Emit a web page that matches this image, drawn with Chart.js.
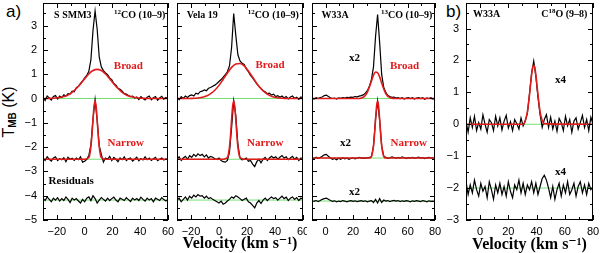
<!DOCTYPE html>
<html>
<head>
<meta charset="utf-8">
<script src="https://cdn.jsdelivr.net/npm/chart.js@4.4.1/dist/chart.umd.min.js"></script>
<style>
  body { margin: 0; background: #fff; width: 600px; height: 253px; overflow: hidden; position: relative; }
  canvas { position: absolute; top: 0; }
  .tag { position: absolute; font: 17px "Liberation Sans", Arial, sans-serif; color: #000; }
  #ylab { position: absolute; left: -30px; top: 102px; width: 80px; height: 20px; line-height: 20px; text-align: center;
          transform: rotate(-90deg); font: 16px "Liberation Sans", Arial, sans-serif; }
  #ylab sub { font-size: 10px; vertical-align: -2px; font-weight: bold; }
</style>
</head>
<body>
<div class="tag" style="left:6px;top:2px">a)</div>
<div class="tag" style="left:446px;top:2px">b)</div>
<div id="ylab">T<sub>MB</sub> (K)</div>
<canvas id="p1" width="175" height="253" style="left:0"></canvas>
<canvas id="p2" width="135" height="253" style="left:172px"></canvas>
<canvas id="p3" width="140" height="253" style="left:307px"></canvas>
<canvas id="p4" width="160" height="253" style="left:440px"></canvas>
<script>
// velocity grids (km/s)
const velA = [-30,-28.5,-27,-25.5,-24,-22.5,-21,-19.5,-18,-16.5,
  -15,-13.5,-12,-10.5,-9,-7.5,-6,-4.5,-3,-1.5,
  0,1.5,3,4.5,6,7.5,9,10.5,12,13.5,
  15,16.5,18,19.5,21,22.5,24,25.5,27,28.5,
  30,31.5,33,34.5,36,37.5,39,40.5,42,43.5,
  45,46.5,48,49.5,51,52.5,54,55.5,57,58.5,60];
const velB = [-10,-8.5,-7,-5.5,-4,-2.5,-1,0.5,2,3.5,
  5,6.5,8,9.5,11,12.5,14,15.5,17,18.5,
  20,21.5,23,24.5,26,27.5,29,30.5,32,33.5,
  35,36.5,38,39.5,41,42.5,44,45.5,47,48.5,
  50,51.5,53,54.5,56,57.5,59,60.5,62,63.5,
  65,66.5,68,69.5,71,72.5,74,75.5,77,78.5,80];

// S SMM3 12CO (10-9)
const smm3Obs = [0.05,-0.08,0.1,0.02,-0.06,0.08,0.12,-0.02,0.1,0.04,
  0.15,0.1,0.2,0.18,0.3,0.28,0.45,0.5,0.62,0.72,
  0.85,0.95,1.12,1.6,2.8,3.6,2.85,1.7,1.3,1.15,
  1.05,0.98,0.85,0.78,0.62,0.55,0.42,0.38,0.3,0.2,
  0.18,0.12,0.08,0.1,0.02,0.06,-0.04,0.08,0.0,-0.06,
  0.05,0.1,-0.05,0.03,0.08,-0.07,0.02,0.09,-0.03,0.04,0.0];
const smm3Nar = [-2.45,-2.55,-2.4,-2.5,-2.58,-2.45,-2.4,-2.55,-2.48,-2.52,
  -2.44,-2.6,-2.42,-2.5,-2.46,-2.55,-2.45,-2.52,-2.4,-2.62,
  -2.58,-2.5,-2.35,-1.9,-0.85,-0.05,-0.9,-1.95,-2.3,-2.62,
  -2.45,-2.5,-2.38,-2.55,-2.42,-2.5,-2.6,-2.45,-2.52,-2.4,
  -2.55,-2.48,-2.45,-2.58,-2.5,-2.42,-2.56,-2.47,-2.53,-2.4,
  -2.52,-2.45,-2.55,-2.48,-2.42,-2.56,-2.5,-2.45,-2.53,-2.48,-2.5];
const smm3Res = [-4.1,-4.2,-4.05,-4.15,-4.25,-4.1,-4.18,-4.08,-4.22,-4.12,
  -4.2,-4.05,-4.15,-4.28,-4.1,-4.18,-4.12,-4.22,-4.3,-4.15,
  -4.25,-4.1,-4.05,-4.2,-4.0,-4.12,-4.3,-4.18,-4.08,-4.15,
  -4.22,-4.1,-4.2,-4.12,-4.06,-4.18,-4.25,-4.1,-4.15,-4.2,
  -4.08,-4.16,-4.24,-4.1,-4.18,-4.12,-4.2,-4.06,-4.15,-4.22,
  -4.1,-4.18,-4.12,-4.25,-4.1,-4.15,-4.2,-4.08,-4.16,-4.22,-4.15];

// Vela 19 12CO (10-9)
const velaObs = [0.05,-0.05,0.08,0.0,0.1,0.04,0.12,0.15,0.1,0.22,
  0.18,0.28,0.3,0.35,0.32,0.42,0.45,0.5,0.55,0.62,
  0.7,0.78,0.88,0.98,1.1,1.35,2.1,3.5,2.6,1.8,
  1.55,1.45,1.4,1.22,1.1,0.95,0.85,0.72,0.6,0.5,
  0.42,0.32,0.28,0.2,0.22,0.14,0.18,0.08,0.12,0.05,
  0.1,0.02,0.08,-0.02,0.06,0.1,0.0,0.05,-0.04,0.06,0.02];
const velaNar = [-2.5,-2.4,-2.55,-2.45,-2.38,-2.5,-2.35,-2.42,-2.3,-2.38,
  -2.28,-2.35,-2.3,-2.4,-2.32,-2.45,-2.38,-2.42,-2.48,-2.5,
  -2.45,-2.55,-2.6,-2.62,-2.55,-2.2,-1.2,-0.1,-0.7,-1.9,
  -2.45,-2.52,-2.5,-2.45,-2.58,-2.55,-2.7,-2.8,-2.6,-2.5,
  -2.65,-2.5,-2.42,-2.55,-2.45,-2.38,-2.45,-2.4,-2.5,-2.42,
  -2.35,-2.45,-2.4,-2.52,-2.45,-2.38,-2.5,-2.42,-2.55,-2.45,-2.48];
const velaRes = [-4.2,-4.1,-4.25,-4.15,-4.05,-4.18,-4.02,-4.1,-3.98,-4.05,
  -3.95,-4.02,-4.0,-4.1,-4.02,-4.12,-4.08,-4.15,-4.2,-4.25,
  -4.3,-4.22,-4.35,-4.3,-4.22,-4.15,-4.05,-4.1,-4.0,-4.05,
  -4.12,-4.2,-4.15,-4.1,-4.25,-4.3,-4.4,-4.5,-4.3,-4.2,
  -4.32,-4.18,-4.1,-4.2,-4.12,-4.05,-4.12,-4.08,-4.18,-4.1,
  -4.02,-4.12,-4.06,-4.2,-4.1,-4.05,-4.15,-4.08,-4.2,-4.1,-4.15];

// W33A 13CO (10-9), x2
const w33Obs = [0.02,-0.02,0.03,0.0,0.04,0.06,0.12,0.14,0.08,0.03,
  0.0,0.02,-0.02,0.03,0.01,0.04,0.02,0.05,0.04,0.06,
  0.05,0.08,0.07,0.1,0.12,0.15,0.22,0.32,0.5,0.78,
  1.3,2.55,3.45,2.3,0.98,0.45,0.25,0.12,0.08,0.05,
  0.06,0.02,0.04,0.0,0.03,-0.02,0.02,0.04,0.0,0.03,
  -0.02,0.02,0.04,0.0,0.03,-0.03,0.02,0.0,0.03,-0.02,0.01];
const w33Nar = [-2.45,-2.48,-2.42,-2.46,-2.43,-2.38,-2.32,-2.3,-2.38,-2.45,
  -2.5,-2.47,-2.52,-2.46,-2.5,-2.44,-2.48,-2.45,-2.5,-2.47,
  -2.44,-2.48,-2.46,-2.42,-2.45,-2.44,-2.46,-2.43,-2.42,-2.4,
  -1.95,-0.85,-0.1,-0.9,-1.95,-2.38,-2.42,-2.46,-2.44,-2.4,
  -2.43,-2.46,-2.42,-2.45,-2.4,-2.44,-2.47,-2.43,-2.45,-2.42,
  -2.46,-2.44,-2.41,-2.45,-2.43,-2.47,-2.44,-2.42,-2.45,-2.43,-2.46];
const w33Res = [-4.25,-4.22,-4.2,-4.24,-4.2,-4.15,-4.12,-4.1,-4.15,-4.2,
  -4.23,-4.21,-4.25,-4.22,-4.24,-4.2,-4.22,-4.25,-4.22,-4.2,
  -4.23,-4.21,-4.24,-4.22,-4.2,-4.23,-4.21,-4.25,-4.22,-4.2,
  -4.28,-4.15,-4.3,-4.12,-4.28,-4.18,-4.22,-4.2,-4.24,-4.21,
  -4.19,-4.22,-4.2,-4.24,-4.21,-4.23,-4.2,-4.22,-4.25,-4.21,
  -4.23,-4.2,-4.22,-4.24,-4.2,-4.22,-4.25,-4.21,-4.23,-4.22,-4.24];

// W33A C18O (9-8), x4
const c18Obs = [0.1,-0.25,0.2,-0.1,0.25,-0.2,0.05,-0.15,0.3,0.0,
  -0.25,0.15,0.05,-0.2,0.25,-0.05,0.2,-0.18,0.1,0.28,
  -0.12,0.08,-0.2,0.15,0.02,-0.15,0.2,-0.05,0.1,0.35,
  0.95,1.6,1.98,1.5,0.85,0.3,-0.1,0.15,0.3,-0.1,
  0.22,-0.15,0.1,-0.22,0.18,0.05,-0.2,0.25,-0.05,0.15,
  -0.25,0.1,0.2,-0.15,0.05,0.28,-0.1,0.15,-0.2,0.22,0.0];
const c18Res = [-1.8,-2.2,-1.9,-2.15,-1.75,-2.05,-2.25,-1.85,-2.1,-1.95,
  -2.3,-1.8,-2.05,-2.35,-1.9,-2.15,-1.85,-2.2,-1.95,-2.25,
  -1.8,-2.1,-2.3,-1.9,-2.05,-1.75,-2.15,-1.85,-2.2,-1.9,
  -2.05,-1.8,-2.15,-1.85,-2.2,-1.95,-1.7,-1.6,-1.75,-2.0,
  -2.3,-1.95,-2.35,-2.05,-1.85,-2.25,-1.9,-2.15,-1.8,-2.2,
  -2.05,-1.85,-2.25,-1.95,-1.8,-2.15,-1.9,-2.2,-1.85,-2.05,-1.95];

// gaussian fits (red)
const fitVelA = [-30,-27,-24,-21,-18,-15,-12,-9,-6,-3,0,3,6,9,12,15,18,21,24,27,30,33,36,39,42,45,48,51,54,57,60];
const smm3Broad = [0,0,0.01,0.02,0.04,0.08,0.14,0.25,0.41,0.6,0.81,1.01,1.15,1.2,1.15,1.01,0.81,0.6,0.41,0.25,0.14,0.08,0.04,0.02,0.01,0,0,0,0,0,0];
const velaBroad = [0,0,0,0,0.01,0.02,0.05,0.1,0.2,0.34,0.54,0.79,1.05,1.28,1.42,1.44,1.34,1.13,0.88,0.62,0.4,0.24,0.13,0.06,0.03,0.01,0,0,0,0,0];
const smm3NarVel = [-30,0,3,4.5,5.25,6,6.75,7.5,8.25,9,9.75,10.5,12,15,60];
const velaNarVel = [-30,3,6,7.5,8.25,9,9.75,10.5,11.25,12,12.75,13.5,15,18,60];
const narFitA = [-2.5,-2.5,-2.43,-1.99,-1.5,-0.87,-0.32,-0.1,-0.32,-0.87,-1.5,-1.99,-2.43,-2.5,-2.5];
const w33BroadVel = [-10,20,24.5,26,27.5,29,30.5,32,33.5,35,36.5,38,39.5,41,42.5,44,45.5,47,48.5,50,80];
const w33Broad = [0,0,0,0.02,0.05,0.12,0.26,0.47,0.72,0.96,1.09,1.06,0.89,0.63,0.39,0.2,0.09,0.04,0.01,0,0];
const w33NarVel = [-10,32,33.5,35,35.75,36.5,37.25,38,38.75,39.5,40.25,41,42.5,44,80];
const w33NarFit = [-2.45,-2.45,-2.38,-1.95,-1.47,-0.86,-0.32,-0.1,-0.32,-0.86,-1.47,-1.95,-2.38,-2.45,-2.45];
const c18FitVel = [-10,30.5,32,33.5,35,36.5,37.25,38,38.75,39.5,41,42.5,44,45.5,80];
const c18Fit = [0,0,0.12,0.39,0.93,1.56,1.78,1.85,1.78,1.56,0.93,0.39,0.12,0.02,0];

// zero levels (green)
const levels12 = [0, -2.5, -4.18];
const levels13 = [0, -2.45, -4.22];
const levels18 = [0, -2];

const RED = '#e31a1a';
const GREEN = '#74e074';
const pts = (xs, ys) => xs.map((v, i) => ({ x: v, y: ys[i] }));
const black = (xs, ys) => ({ data: pts(xs, ys), borderColor: '#000', borderWidth: 1.2, tension: 0, order: 2 });
const red = (xs, ys) => ({ data: pts(xs, ys), borderColor: RED, borderWidth: 1.6, cubicInterpolationMode: 'monotone', order: 1 });
const greens = (lv, lo, hi) => lv.map(l => ({ data: [{ x: lo, y: l }, { x: hi, y: l }], borderColor: GREEN, borderWidth: 1, order: 3 }));

// frame with inward ticks on all four sides
const frameTicks = {
  id: 'frameTicks',
  afterDatasetsDraw(chart) {
    const { ctx, chartArea: a, scales: { x, y } } = chart;
    const o = chart.options.plugins.frameTicks;
    ctx.save();
    ctx.strokeStyle = '#000';
    ctx.lineWidth = 1;
    ctx.strokeRect(a.left + 0.5, a.top + 0.5, a.right - a.left - 1, a.bottom - a.top - 1);
    ctx.beginPath();
    const walk = (scale, step, major, fn) => {
      for (let v = Math.ceil(scale.min / step - 1e-9) * step; v <= scale.max + 1e-9; v += step) {
        const isMaj = Math.abs(v / major - Math.round(v / major)) < 1e-6;
        fn(Math.round(scale.getPixelForValue(v)) + 0.5, isMaj ? 5 : 3);
      }
    };
    walk(x, o.xMinor, o.xMajor, (p, l) => {
      ctx.moveTo(p, a.bottom); ctx.lineTo(p, a.bottom - l);
      ctx.moveTo(p, a.top); ctx.lineTo(p, a.top + l);
    });
    walk(y, o.yMinor, o.yMajor, (p, l) => {
      ctx.moveTo(a.left, p); ctx.lineTo(a.left + l, p);
      ctx.moveTo(a.right, p); ctx.lineTo(a.right - l, p);
    });
    ctx.stroke();
    ctx.restore();
  }
};

// in-panel labels, placed in data coordinates
const makeNotes = items => ({
  id: 'notes',
  afterDraw(chart) {
    const { ctx, scales: { x, y } } = chart;
    ctx.save();
    ctx.textBaseline = 'middle';
    ctx.textAlign = 'left';
    items.forEach(n => {
      const size = n.size || 11;
      const parts = n.parts || [[n.text, 0]];
      const fontOf = s => `bold ${s ? Math.round(size * 0.7) : size}px "Liberation Serif", "DejaVu Serif", serif`;
      const widths = parts.map(([t, s]) => { ctx.font = fontOf(s); return ctx.measureText(t).width; });
      const total = widths.reduce((a, b) => a + b, 0);
      let px = x.getPixelForValue(n.x);
      if (n.align === 'right') px -= total;
      const py = y.getPixelForValue(n.y);
      ctx.fillStyle = n.color || '#000';
      parts.forEach(([t, s], i) => {
        ctx.font = fontOf(s);
        ctx.fillText(t, px, s ? py - size * 0.35 : py);
        px += widths[i];
      });
    });
    ctx.restore();
  }
});

const tickFont = { family: '"Liberation Sans", Arial, sans-serif', size: 11 };
const fmt = v => String(v).replace('-', '\u2212');

function makePanel(id, p) {
  return new Chart(document.getElementById(id), {
    type: 'line',
    data: { datasets: p.datasets },
    options: {
      responsive: false,
      animation: false,
      events: [],
      layout: { padding: { left: 0, right: p.padRight, top: 3, bottom: 0 } },
      elements: { point: { radius: 0 } },
      plugins: {
        legend: { display: false },
        tooltip: { enabled: false },
        frameTicks: { xMajor: 20, xMinor: 10, yMajor: 1, yMinor: 0.5 }
      },
      scales: {
        x: {
          type: 'linear', min: p.xMin, max: p.xMax,
          grid: { display: false, drawTicks: false },
          border: { display: false },
          ticks: { stepSize: 20, includeBounds: false, autoSkip: false, maxRotation: 0, padding: 5,
                   color: '#000', font: tickFont, callback: fmt },
          title: { display: !!p.xTitle, text: p.xTitle, color: '#000',
                   font: { family: '"Liberation Serif", "DejaVu Serif", serif', size: 16, weight: 'bold', lineHeight: p.titleLH },
                   padding: 0 },
          afterFit: s => { s.height = p.xHeight; s.paddingLeft = 0; s.paddingRight = 0; }
        },
        y: {
          type: 'linear', min: p.yMin, max: p.yMax,
          grid: { display: false, drawTicks: false },
          border: { display: false },
          ticks: { display: p.yLabels, stepSize: 1, includeBounds: false, autoSkip: false, padding: p.yPad,
                   color: '#000', font: tickFont, callback: fmt },
          afterFit: s => { s.width = p.yWidth; s.paddingTop = 0; s.paddingBottom = 0; }
        }
      }
    },
    plugins: [frameTicks, makeNotes(p.notes)]
  });
}

const co12 = [['12', 1], ['CO (10\u20139)', 0]];

makePanel('p1', {
  xMin: -30, xMax: 60, yMin: -5, yMax: 3.93, yWidth: 43, yLabels: true, yPad: 6, padRight: 7, xHeight: 33,
  datasets: [red(fitVelA, smm3Broad), red(smm3NarVel, narFitA),
             black(velA, smm3Obs), black(velA, smm3Nar), black(velA, smm3Res), ...greens(levels12, -30, 60)],
  notes: [
    { text: 'S SMM3', x: -22, y: 3.4, size: 10 },
    { parts: co12, x: 58, y: 3.4, size: 10, align: 'right' },
    { text: 'Broad', x: 21, y: 1.32, color: RED },
    { text: 'Narrow', x: 16.5, y: -1.84, color: RED },
    { text: 'Residuals', x: -26, y: -3.4 }
  ]
});

makePanel('p2', {
  xMin: -30, xMax: 60, yMin: -5, yMax: 3.93, yWidth: 5, yLabels: false, yPad: 0, padRight: 4, xHeight: 33,
  xTitle: 'Velocity (km s\u207B\u00B9)', titleLH: 1.2,
  datasets: [red(fitVelA, velaBroad), red(velaNarVel, narFitA),
             black(velA, velaObs), black(velA, velaNar), black(velA, velaRes), ...greens(levels12, -30, 60)],
  notes: [
    { text: 'Vela 19', x: -23, y: 3.4, size: 10 },
    { parts: co12, x: 57, y: 3.4, size: 10, align: 'right' },
    { text: 'Broad', x: 26, y: 1.37, color: RED },
    { text: 'Narrow', x: 20, y: -1.84, color: RED }
  ]
});

makePanel('p3', {
  xMin: -10, xMax: 80, yMin: -5, yMax: 3.93, yWidth: 5, yLabels: false, yPad: 0, padRight: 12, xHeight: 33,
  datasets: [red(w33BroadVel, w33Broad), red(w33NarVel, w33NarFit),
             black(velB, w33Obs), black(velB, w33Nar), black(velB, w33Res), ...greens(levels13, -10, 80)],
  notes: [
    { text: 'W33A', x: -3, y: 3.4, size: 10 },
    { parts: [['13', 1], ['CO (10\u20139)', 0]], x: 78, y: 3.4, size: 10, align: 'right' },
    { text: 'x2', x: 17, y: 1.65 },
    { text: 'Broad', x: 47, y: 1.34, color: RED },
    { text: 'x2', x: 10.5, y: -1.84 },
    { text: 'Narrow', x: 47.5, y: -1.84, color: RED },
    { text: 'x2', x: 17, y: -3.87 }
  ]
});

makePanel('p4', {
  xMin: -10, xMax: 80, yMin: -3, yMax: 3.8, yWidth: 26, yLabels: true, yPad: 7, padRight: 7, xHeight: 33,
  xTitle: 'Velocity (km s\u207B\u00B9)', titleLH: 1.0,
  datasets: [red(c18FitVel, c18Fit), black(velB, c18Obs), black(velB, c18Res), ...greens(levels18, -10, 80)],
  notes: [
    { text: 'W33A', x: -5, y: 3.43, size: 10 },
    { parts: [['C', 0], ['18', 1], ['O (9\u20138)', 0]], x: 76, y: 3.43, size: 10, align: 'right' },
    { text: 'x4', x: 53, y: 1.38 },
    { text: 'x4', x: 53, y: -1.5 }
  ]
});
</script>
</body>
</html>
